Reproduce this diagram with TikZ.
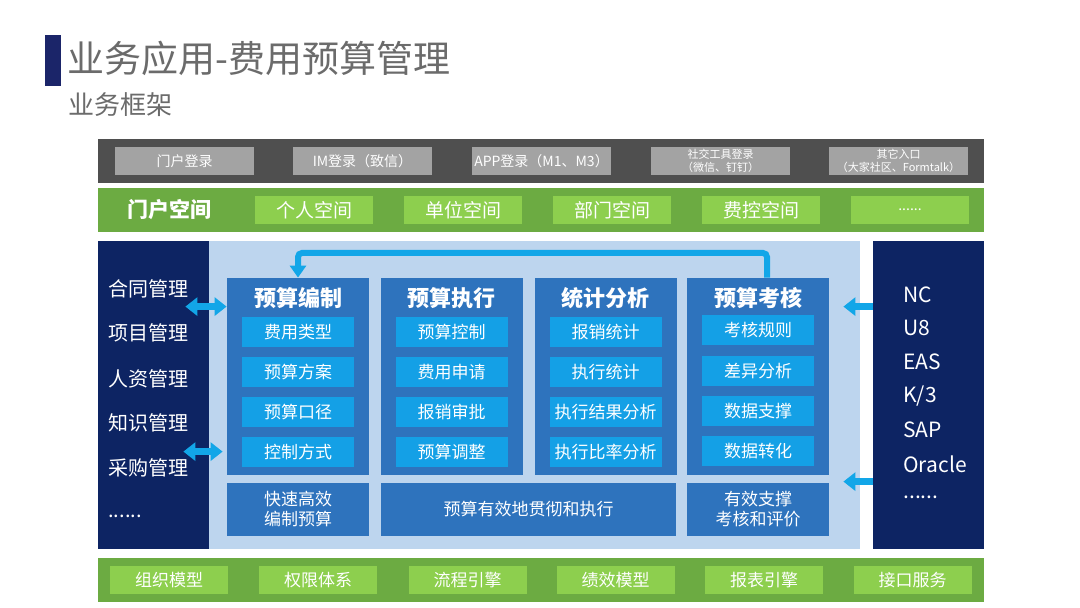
\documentclass[tikz,border=0pt]{standalone}
\usepackage{fontspec}
\setmainfont{Noto Sans CJK SC}
\usetikzlibrary{arrows.meta}

\definecolor{navy}{HTML}{0D2463}
\definecolor{titlebar}{HTML}{1B2569}
\definecolor{titlegray}{HTML}{6B6B6B}
\definecolor{midpanel}{HTML}{BDD5EE}
\definecolor{colblue}{HTML}{2E73BD}
\definecolor{cyanbox}{HTML}{14A0E6}
\definecolor{arrowcyan}{HTML}{12A6E8}
\definecolor{bardark}{HTML}{4F4F4F}
\definecolor{btngray}{HTML}{A3A3A3}
\definecolor{bargreen}{HTML}{6CAB42}
\definecolor{btngreen}{HTML}{8DCF4E}

\begin{document}
\begin{tikzpicture}[x=0.5pt, y=-0.5pt,
  bar/.style={fill=#1, minimum width=443pt, minimum height=22pt, inner sep=0pt},
  panel/.style={fill=#1, minimum height=154pt, inner sep=0pt},
  topbtn/.style={fill=btngray, text=white, minimum width=69.5pt, minimum height=14pt, inner sep=0pt, font=\fontsize{7}{8}\selectfont, align=center},
  greenbtn/.style={fill=btngreen, text=white, minimum width=59pt, minimum height=14pt, inner sep=0pt, font=\fontsize{9.5}{10}\selectfont},
  colbox/.style={fill=colblue, minimum width=71pt, minimum height=98.5pt, inner sep=0pt},
  coltitle/.style={text=white, font=\bfseries\fontsize{11}{12}\selectfont},
  item/.style={fill=cyanbox, text=white, minimum width=56pt, minimum height=15pt, inner sep=0pt, font=\fontsize{8.5}{9}\selectfont},
  goal/.style={fill=colblue, text=white, minimum height=26.5pt, inner sep=0pt, align=center, font=\fontsize{8.5}{10}\selectfont},
  side/.style={text=white, anchor=west, inner sep=0pt, font=\fontsize{10}{11}\selectfont},
  fb/.style={draw=arrowcyan, line width=3pt, rounded corners=2pt, -{Triangle[width=8pt,length=6pt]}},
  link/.style={draw=arrowcyan, line width=3.5pt, {Triangle[width=9pt,length=6pt]}-{Triangle[width=9pt,length=6pt]}},
  feed/.style={draw=arrowcyan, line width=3.5pt, -{Triangle[width=9pt,length=6pt]}}]
  \useasboundingbox (0,0) rectangle (1080,608);
  \fill[white] (0,0) rectangle (1080,608);

  % title
  \fill[titlebar] (45,35) rectangle (61,86);
  \node[anchor=west, text=titlegray, inner sep=0pt, font=\fontsize{18.5}{19}\selectfont] (title) at (67,58) {业务应用-费用预算管理};
  \node[anchor=west, text=titlegray, inner sep=0pt, font=\fontsize{13}{14}\selectfont] (subtitle) at (68,105) {业务框架};

  % login bar
  \node[bar=bardark] (loginbar) at (541,161) {};
  \node[topbtn] (l1) at (184.5,161) {门户登录};
  \node[topbtn] (l2) at (362.5,161) {IM登录（致信）};
  \node[topbtn] (l3) at (541.5,161) {APP登录（M1、M3）};
  \node[topbtn, font=\fontsize{5.5}{6.5}\selectfont] (l4) at (720.5,161) {社交工具登录\\（微信、钉钉）};
  \node[topbtn, font=\fontsize{5.5}{6.5}\selectfont] (l5) at (898.5,161) {其它入口\\（大家社区、Formtalk）};

  % portal bar
  \node[bar=bargreen] (portalbar) at (541,210) {};
  \node[text=white, font=\bfseries\fontsize{10.5}{11}\selectfont] (portal) at (169,210) {门户空间};
  \node[greenbtn] (p1) at (314,210) {个人空间};
  \node[greenbtn] (p2) at (463,210) {单位空间};
  \node[greenbtn] (p3) at (612,210) {部门空间};
  \node[greenbtn] (p4) at (761,210) {费控空间};
  \node[greenbtn, font=\fontsize{7}{8}\selectfont] (p5) at (910,210) {......};

  % panels
  \node[panel=navy, minimum width=56pt] (left) at (154,395) {};
  \node[panel=midpanel, minimum width=325.5pt] (mid) at (534.5,395) {};
  \node[panel=navy, minimum width=55.5pt] (right) at (928.5,395) {};

  \node[side] (a1) at (108,289) {合同管理};
  \node[side] (a2) at (108,333) {项目管理};
  \node[side] (a3) at (108,379) {人资管理};
  \node[side] (a4) at (108,423) {知识管理};
  \node[side] (a5) at (108,468) {采购管理};
  \node[side] (a6) at (108,516) {......};

  \node[side, font=\fontsize{10.5}{11}\selectfont] (s1) at (903,295) {NC};
  \node[side, font=\fontsize{10.5}{11}\selectfont] (s2) at (903,328) {U8};
  \node[side, font=\fontsize{10.5}{11}\selectfont] (s3) at (903,362) {EAS};
  \node[side, font=\fontsize{10.5}{11}\selectfont] (s4) at (903,396) {K/3};
  \node[side, font=\fontsize{10.5}{11}\selectfont] (s5) at (903,430) {SAP};
  \node[side, font=\fontsize{10.5}{11}\selectfont] (s6) at (903,464) {Oracle};
  \node[side, font=\fontsize{10.5}{11}\selectfont] (s7) at (903,497) {......};

  % columns
  \node[colbox] (k1) at (298,376.5) {};
  \node[colbox] (k2) at (451.5,376.5) {};
  \node[colbox] (k3) at (605.5,376.5) {};
  \node[colbox] (k4) at (758,376.5) {};

  \node[coltitle] at (298,298) {预算编制};
  \node[coltitle] at (451.5,298) {预算执行};
  \node[coltitle] at (605.5,298) {统计分析};
  \node[coltitle] at (758,298) {预算考核};

  \node[item] (e1) at (298,332) {费用类型};
  \node[item] (e2) at (298,372) {预算方案};
  \node[item] (e3) at (298,412) {预算口径};
  \node[item] (e4) at (298,452) {控制方式};

  \node[item] (x1) at (451.5,332) {预算控制};
  \node[item] (x2) at (451.5,372) {费用申请};
  \node[item] (x3) at (451.5,412) {报销审批};
  \node[item] (x4) at (451.5,452) {预算调整};

  \node[item] (t1) at (605.5,332) {报销统计};
  \node[item] (t2) at (605.5,372) {执行统计};
  \node[item] (t3) at (605.5,412) {执行结果分析};
  \node[item] (t4) at (605.5,452) {执行比率分析};

  \node[item] (r1) at (758,330) {考核规则};
  \node[item] (r2) at (758,371) {差异分析};
  \node[item] (r3) at (758,411) {数据支撑};
  \node[item] (r4) at (758,451) {数据转化};

  \node[goal, minimum width=71pt] (g1) at (298,509.5) {快速高效\\编制预算};
  \node[goal, minimum width=147.5pt] (g2) at (528.5,509.5) {预算有效地贯彻和执行};
  \node[goal, minimum width=71pt] (g3) at (758,509.5) {有效支撑\\考核和评价};

  % arrows
  \coordinate (fbtop) at (767,253);
  \draw[fb] ([xshift=4.5pt]k4.north) -- (fbtop) -| (k1.north);

  \draw[link] ([yshift=-33pt]left.north east) ++(-12.5pt,0) coordinate (la) -- (la -| k1.west);
  \draw[link] ([yshift=-105.5pt]left.north east) ++(-13.5pt,0) coordinate (lb) -- ([xshift=-2pt]lb -| k1.west);
  \draw[feed] ([yshift=-33pt]right.north west) coordinate (ra) -- ([xshift=7pt]ra -| k4.east);
  \draw[feed] ([yshift=-120.5pt]right.north west) coordinate (rb) -- ([xshift=7pt]rb -| k4.east);

  % base bar
  \node[bar=bargreen] (basebar) at (541,580) {};
  \node[greenbtn, font=\fontsize{8.5}{9}\selectfont] (b1) at (169,580) {组织模型};
  \node[greenbtn, font=\fontsize{8.5}{9}\selectfont] (b2) at (318,580) {权限体系};
  \node[greenbtn, font=\fontsize{8.5}{9}\selectfont] (b3) at (467.5,580) {流程引擎};
  \node[greenbtn, font=\fontsize{8.5}{9}\selectfont] (b4) at (615.5,580) {绩效模型};
  \node[greenbtn, font=\fontsize{8.5}{9}\selectfont] (b5) at (764,580) {报表引擎};
  \node[greenbtn, font=\fontsize{8.5}{9}\selectfont] (b6) at (912.5,580) {接口服务};
\end{tikzpicture}
\end{document}
